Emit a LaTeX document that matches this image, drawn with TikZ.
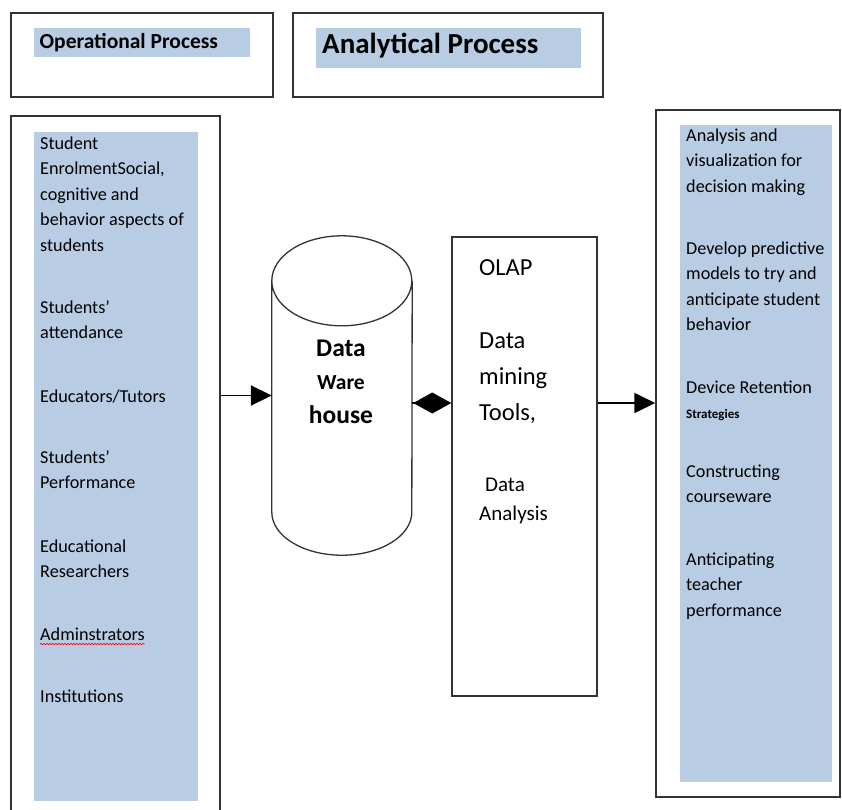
\documentclass[tikz,border=0pt]{standalone}
\usepackage{fontspec}
\setmainfont{Carlito}
\usetikzlibrary{arrows.meta,decorations.pathmorphing}
\definecolor{bandblue}{HTML}{B8CCE4}

\tikzset{
  frame/.style={draw=black!80, line width=1.5pt, inner sep=0pt},
  band/.style={fill=bandblue, inner sep=0pt},
  item/.style={anchor=north west, align=left, inner sep=0pt, font=\fontsize{18.2}{25.5}\selectfont},
  link/.style={line width=1.8pt, -{Triangle[length=21pt,width=20pt]}},
  cyl/.style={draw=black!80, line width=1.3pt},
  spell/.style={red, line width=0.6pt, decorate, decoration={snake, amplitude=0.8pt, segment length=3pt}}
}

\begin{document}
\begin{tikzpicture}[x=1pt,y=-1pt]
\useasboundingbox (0,0) rectangle (842,809);
\clip (0,0) rectangle (842,809);

\node[frame, minimum width=262pt, minimum height=84pt] (opbox) at (142,55) {};
\node[frame, minimum width=310pt, minimum height=84pt] (anbox) at (448,55) {};
\node[band, minimum width=216pt, minimum height=29pt] (opband) at (142,42.5) {};
\node[band, minimum width=265pt, minimum height=40pt] (anband) at (448.5,48) {};
\node[anchor=base west, inner sep=0pt, font=\bfseries\fontsize{21.5}{24}\selectfont] (optitle) at (39.5,48.3) {Operational Process};
\node[anchor=base west, inner sep=0pt, font=\bfseries\fontsize{29}{32}\selectfont] (antitle) at (322,53.3) {Analytical Process};

\node[frame, minimum width=209pt, minimum height=720pt] (leftbox) at (115.5,476) {};
\node[band, minimum width=164pt, minimum height=669pt] (leftband) at (116,466.5) {};
\node[frame, minimum width=184pt, minimum height=687pt] (rightbox) at (748,453.5) {};
\node[band, minimum width=152pt, minimum height=657pt] (rightband) at (756,453.5) {};
\node[frame, minimum width=145pt, minimum height=459pt] (olap) at (524.5,466.5) {};

\node[item] (enrol) at (40,131) {\strut Student\\EnrolmentSocial,\\cognitive and\\behavior aspects of\\students};
\node[item] (attend) at (40,295) {\strut Students'\\attendance};
\node[item] (tutors) at (40,384) {\strut Educators/Tutors};
\node[item] (perform) at (40,445) {\strut Students'\\Performance};
\node[item] (research) at (40,534) {\strut Educational\\Researchers};
\node[item] (admin) at (40,622) {\strut Adminstrators};
\node[item] (inst) at (40,684) {\strut Institutions};
\draw[spell] ([yshift=-4pt]admin.base west) -- ([yshift=-4pt]admin.base east);

\node[item] (decide) at (686,123) {\strut Analysis and\\visualization for\\decision making};
\node[item] (predict) at (686,236) {\strut Develop predictive\\models to try and\\anticipate student\\behavior};
\node[item] (retain) at (686,375) {\strut Device Retention\\{\bfseries\fontsize{13}{25.5}\selectfont Strategies}};
\node[item] (course) at (686,459) {\strut Constructing\\courseware};
\node[item] (teacher) at (686,547) {\strut Anticipating\\teacher\\performance};

\node[minimum width=140pt, minimum height=319pt, inner sep=0pt] (dw) at (342,395.5) {};
\draw[cyl] ([yshift=-45pt]dw.north west) arc[start angle=180, end angle=-180, x radius=70pt, y radius=45pt]
  -- ([yshift=43pt]dw.south west) arc[start angle=180, end angle=360, x radius=70pt, y radius=43pt]
  -- ([yshift=-45pt]dw.north east);
\node[anchor=north, align=center, inner sep=0pt, font=\bfseries\fontsize{25.5}{33.5}\selectfont] (dwlabel) at (341,332.5) {\strut Data\\{\fontsize{21.5}{33.5}\selectfont Ware}\\house};

\node[anchor=base west, inner sep=0pt, font=\fontsize{24.5}{36}\selectfont] (olaptitle) at (479,275) {OLAP};
\node[item, font=\fontsize{24.5}{36}\selectfont] (mining) at (479,322.8) {\strut Data\\mining\\Tools,};
\node[item, font=\fontsize{21}{29}\selectfont] (analysis) at (479,471.4) {\strut\hspace{6pt}Data\\Analysis};

\draw[link] (leftbox.east |- dw.west) -- (dw.west);
\path (dw.east) ++(0,7.5) coordinate (mid);
\draw[line width=1.8pt, -{Diamond[length=38pt,width=21pt]}] (mid) -- (mid -| olap.west);
\draw[link] (mid -| olap.east) -- (mid -| rightbox.west);
\end{tikzpicture}
\end{document}
